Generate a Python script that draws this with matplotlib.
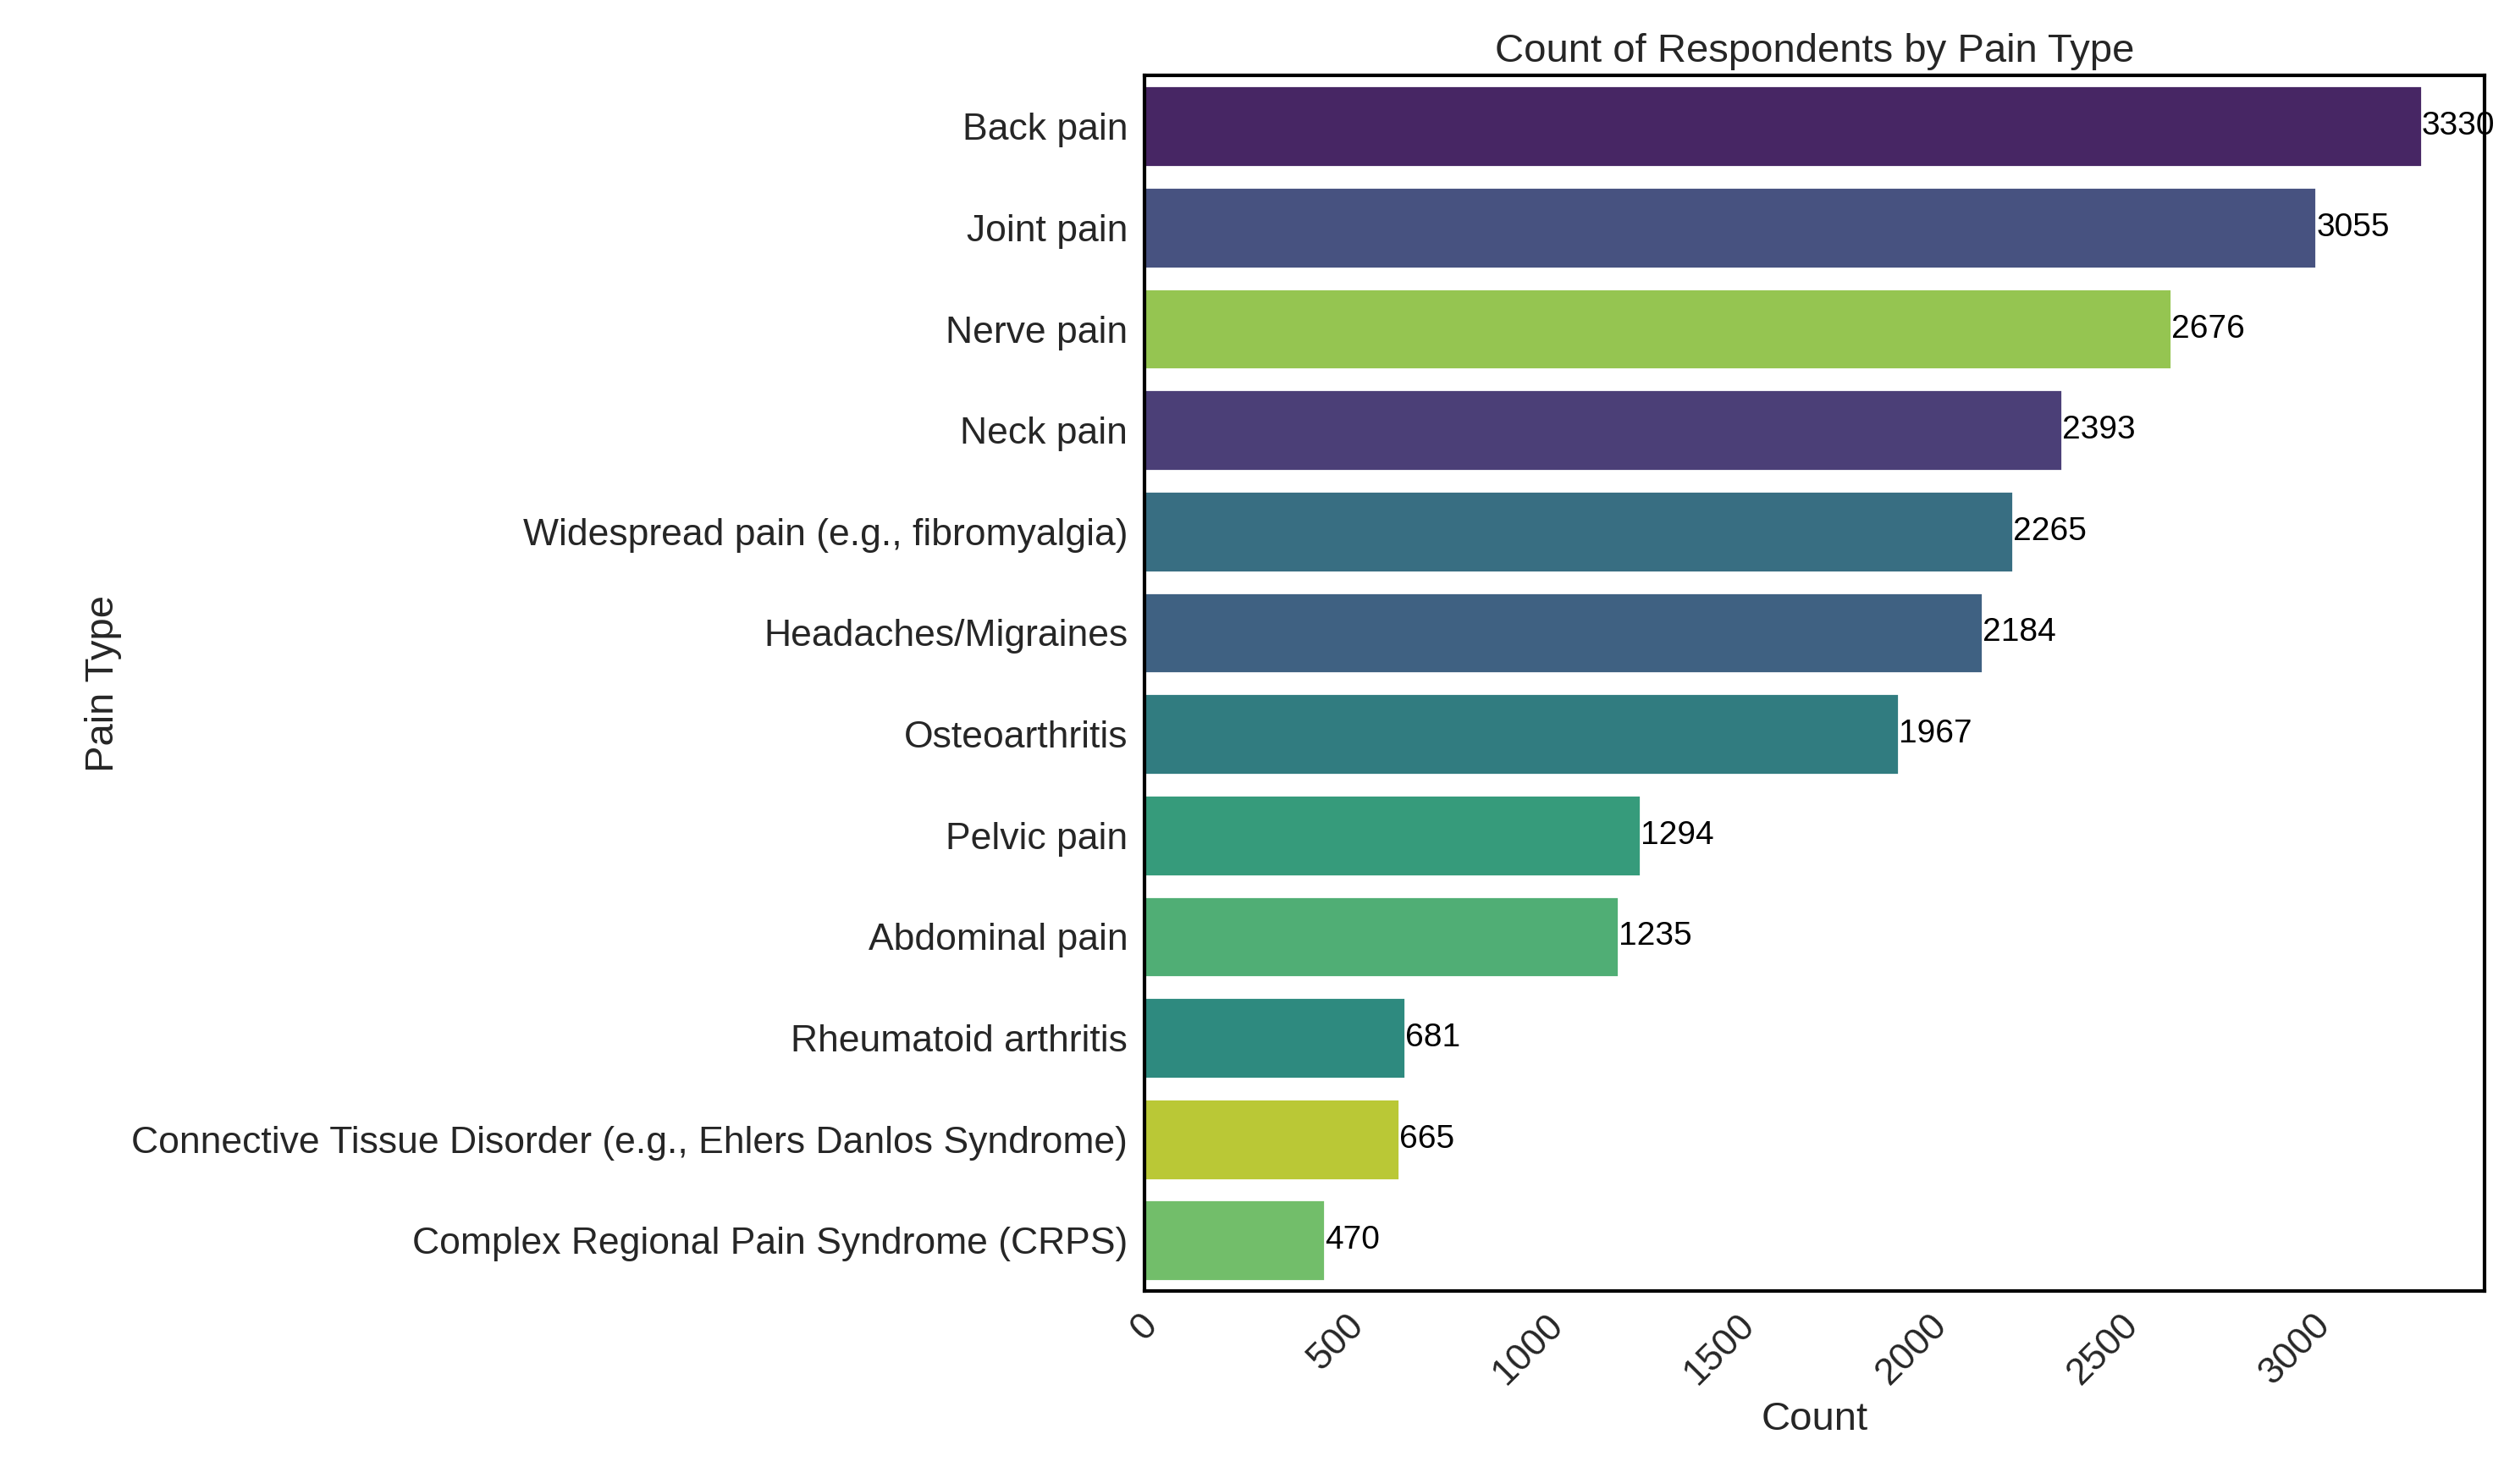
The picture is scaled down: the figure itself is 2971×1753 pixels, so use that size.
import numpy as np
import matplotlib.pyplot as plt
import seaborn as sns

sns.set_style("white")
plt.rcParams['font.family'] = ['Arial', 'Liberation Sans', 'DejaVu Sans']

pain_types = ["Back pain", "Joint pain", "Nerve pain", "Neck pain",
              "Widespread pain (e.g., fibromyalgia)", "Headaches/Migraines",
              "Osteoarthritis", "Pelvic pain", "Abdominal pain",
              "Rheumatoid arthritis",
              "Connective Tissue Disorder (e.g., Ehlers Danlos Syndrome)",
              "Complex Regional Pain Syndrome (CRPS)"]
counts = [3330, 3055, 2676, 2393, 2265, 2184, 1967, 1294, 1235, 681, 665, 470]
color_idx = [0, 2, 10, 1, 4, 3, 5, 7, 8, 6, 11, 9]

pal = sns.color_palette("viridis", 12)
colors = [sns.desaturate(pal[i], 0.75) for i in color_idx]

fig = plt.figure(figsize=(14.855, 8.765), dpi=200)
ax = fig.add_axes([0.455, 0.130, 0.533, 0.819])
y = np.arange(len(pain_types))
ax.barh(y, counts, height=0.8, color=colors)
ax.set_yticks(y)
ax.set_yticklabels(pain_types, fontsize=16)
ax.set_ylim(len(pain_types) - 0.5, -0.5)
ax.set_xlim(0, 3494)
for yi, c in zip(y, counts):
    ax.text(c, yi, str(c), va='center', ha='left', fontsize=14, color='black')
ax.tick_params(axis='x', labelsize=16, labelrotation=45)
ax.set_xlabel("Count", fontsize=17)
ax.set_ylabel("Pain Type", fontsize=17)
ax.set_title("Count of Respondents by Pain Type", fontsize=17)
for s in ax.spines.values():
    s.set_color('black')
    s.set_linewidth(1.5)
fig.savefig("out.png", dpi=200)
